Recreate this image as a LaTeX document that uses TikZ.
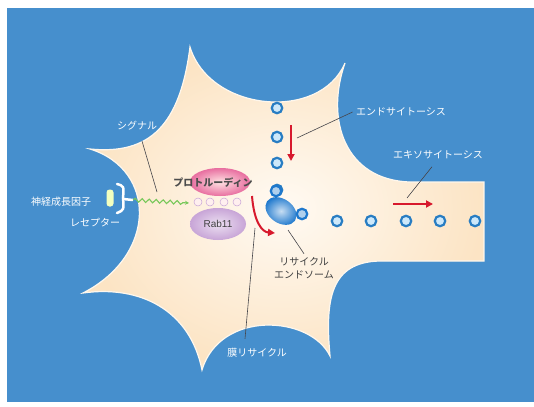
\documentclass[tikz,border=0pt]{standalone}
\usepackage{fontspec}
\newfontfamily\jp{Noto Sans CJK JP}
\setsansfont{Liberation Sans}
\usetikzlibrary{arrows.meta,decorations.pathmorphing,shapes.geometric}

\definecolor{bgblue}{RGB}{70,143,205}
\definecolor{cellcream}{RGB}{252,228,196}
\definecolor{cellcore}{RGB}{255,250,243}
\definecolor{vesring}{RGB}{40,125,195}
\definecolor{vesfill}{RGB}{205,232,250}
\definecolor{endoblue}{RGB}{30,120,205}
\definecolor{arrowred}{RGB}{215,25,45}
\definecolor{protopink}{RGB}{232,110,160}
\definecolor{rablilac}{RGB}{200,165,215}
\definecolor{wavegreen}{RGB}{120,200,90}
\definecolor{leadgray}{RGB}{70,70,75}

\tikzset{
  on blue/.style={font=\jp\fontsize{10}{11}\selectfont, text=white},
  on cell/.style={font=\jp\fontsize{10}{13}\selectfont, text=black!75, align=center},
  leader/.style={draw=leadgray, line width=0.6pt},
  vesicle/.style={circle, draw=vesring, line width=2.2pt, fill=vesfill, minimum size=10.5pt, inner sep=0pt},
  gtp/.style={circle, draw=rablilac, line width=0.5pt, fill=pink!25, minimum size=8pt, inner sep=0pt},
  red move/.style={draw=arrowred, line width=2pt, -{Triangle[length=7pt,width=7pt]}},
}

\begin{document}
\begin{tikzpicture}[x=1pt,y=-1pt]
\useasboundingbox (0,0) rectangle (534,406);
\fill[white] (0,0) rectangle (534,406);
\fill[bgblue] (7,8) rectangle (534,402);

% cell body with the neurite on the right
\shade[inner color=cellcore, outer color=cellcream, draw=white!70!cellcream, line width=1.2pt]
  (190,47) .. controls (210,112) and (320,122) .. (345,63)
  .. controls (325,120) and (345,180) .. (410,182) -- (484,182) -- (484,261) -- (380,261)
  .. controls (330,262) and (325,300) .. (330,356)
  .. controls (310,315) and (220,310) .. (202,370)
  .. controls (190,310) and (140,285) .. (83,293)
  .. controls (157,255) and (157,170) .. (90,149)
  .. controls (150,155) and (180,125) .. (190,47) -- cycle;

% receptor with its ligand
\node[rectangle, rounded corners=3pt, minimum width=7pt, minimum height=17pt, inner sep=0pt,
  fill=green!20!yellow!25] (ngf) at (110,198) {};
\draw[white, line width=2.5pt, line cap=round]
  (117,184) .. controls (124,186) .. (123,198) .. controls (124,210) .. (117,213);
\coordinate (rec-in) at (123,199);
\coordinate (rec-out) at (133,200);
\draw[white, line width=2.5pt] (rec-in) -- (rec-out);
\coordinate (wave-end) at (189,203);
\draw[wavegreen, line width=1.1pt, decorate,
  decoration={snake, amplitude=1.8pt, segment length=7pt, post length=5pt},
  -{Stealth[length=4pt,width=4pt]}] (rec-out) -- (wave-end);

% protrudin / Rab11 complex
\node[ellipse, minimum width=60pt, minimum height=28pt, inner color=pink!45, outer color=protopink] (protrudin) at (220,182) {};
\node[ellipse, minimum width=56pt, minimum height=32pt, inner color=rablilac!35, outer color=rablilac] (rab) at (218,224) {};
\foreach \x [count=\i] in {198,210,224,237} {
  \node[gtp] (gtp-\i) at (\x,202) {};
}
\node[font=\jp\bfseries\fontsize{10}{11}\selectfont, text=black!70] (protrudin-txt) at (213,183) {プロトルーディン};
\node[font=\sffamily\fontsize{10}{11}\selectfont, text=black!75] (rab-txt) at (rab) {Rab11};

% endocytic and exocytic vesicles
\foreach \y [count=\i] in {108,137,163,190} {
  \node[vesicle] (endo-\i) at (277,\y) {};
}
\foreach \x [count=\i] in {337,371,406,440,475} {
  \node[vesicle] (exo-\i) at (\x,221) {};
}

% recycling endosome
\node[ellipse, rotate=-35, minimum width=34pt, minimum height=24pt, inner sep=0pt,
  inner color=endoblue!25, outer color=endoblue] (recyc) at (281,211) {};
\node[vesicle, draw=endoblue, fill=endoblue!35] (bud-1) at (276,191) {};
\node[vesicle, draw=endoblue, fill=endoblue!35] (bud-2) at (302,214) {};

% movement arrows
\coordinate (down-a) at (291,125);
\coordinate (down-b) at (291,161);
\draw[red move] (down-a) -- (down-b);
\coordinate (right-a) at (393,204);
\coordinate (right-b) at (433,204);
\draw[red move] (right-a) -- (right-b);
\coordinate (loop-a) at (252,196);
\coordinate (loop-b) at (275,233);
\draw[red move] (loop-a) .. controls (254,222) and (262,232) .. (loop-b);

% labels
\node[on blue] (signal) at (137,126) {シグナル};
\node[on blue] (ngf-txt) at (61,202) {神経成長因子};
\node[on blue] (receptor) at (95,223) {レセプター};
\node[on blue] (endocyt) at (401,112) {エンドサイトーシス};
\node[on blue] (exocyt) at (438,155) {エキソサイトーシス};
\node[on blue] (membrane) at (257,353) {膜リサイクル};
\node[on cell] (recyc-txt) at (304,268) {リサイクル\\エンドソーム};

% leader lines
\coordinate (signal-end) at (157,192);
\draw[leader] ([shift={(5,7)}]signal.south) -- (signal-end);
\coordinate (endo-end) at (297,138);
\draw[leader] (endocyt.west) -- (endo-end);
\coordinate (exo-end) at (407,198);
\draw[leader] ([shift={(-6,4)}]exocyt.south) -- (exo-end);
\coordinate (recyc-end) at (288,230);
\draw[leader] (recyc-txt.north) -- (recyc-end);
\coordinate (membrane-end) at (255,228);
\draw[leader] ([shift={(-12,-6)}]membrane.north) -- (membrane-end);
\end{tikzpicture}
\end{document}
